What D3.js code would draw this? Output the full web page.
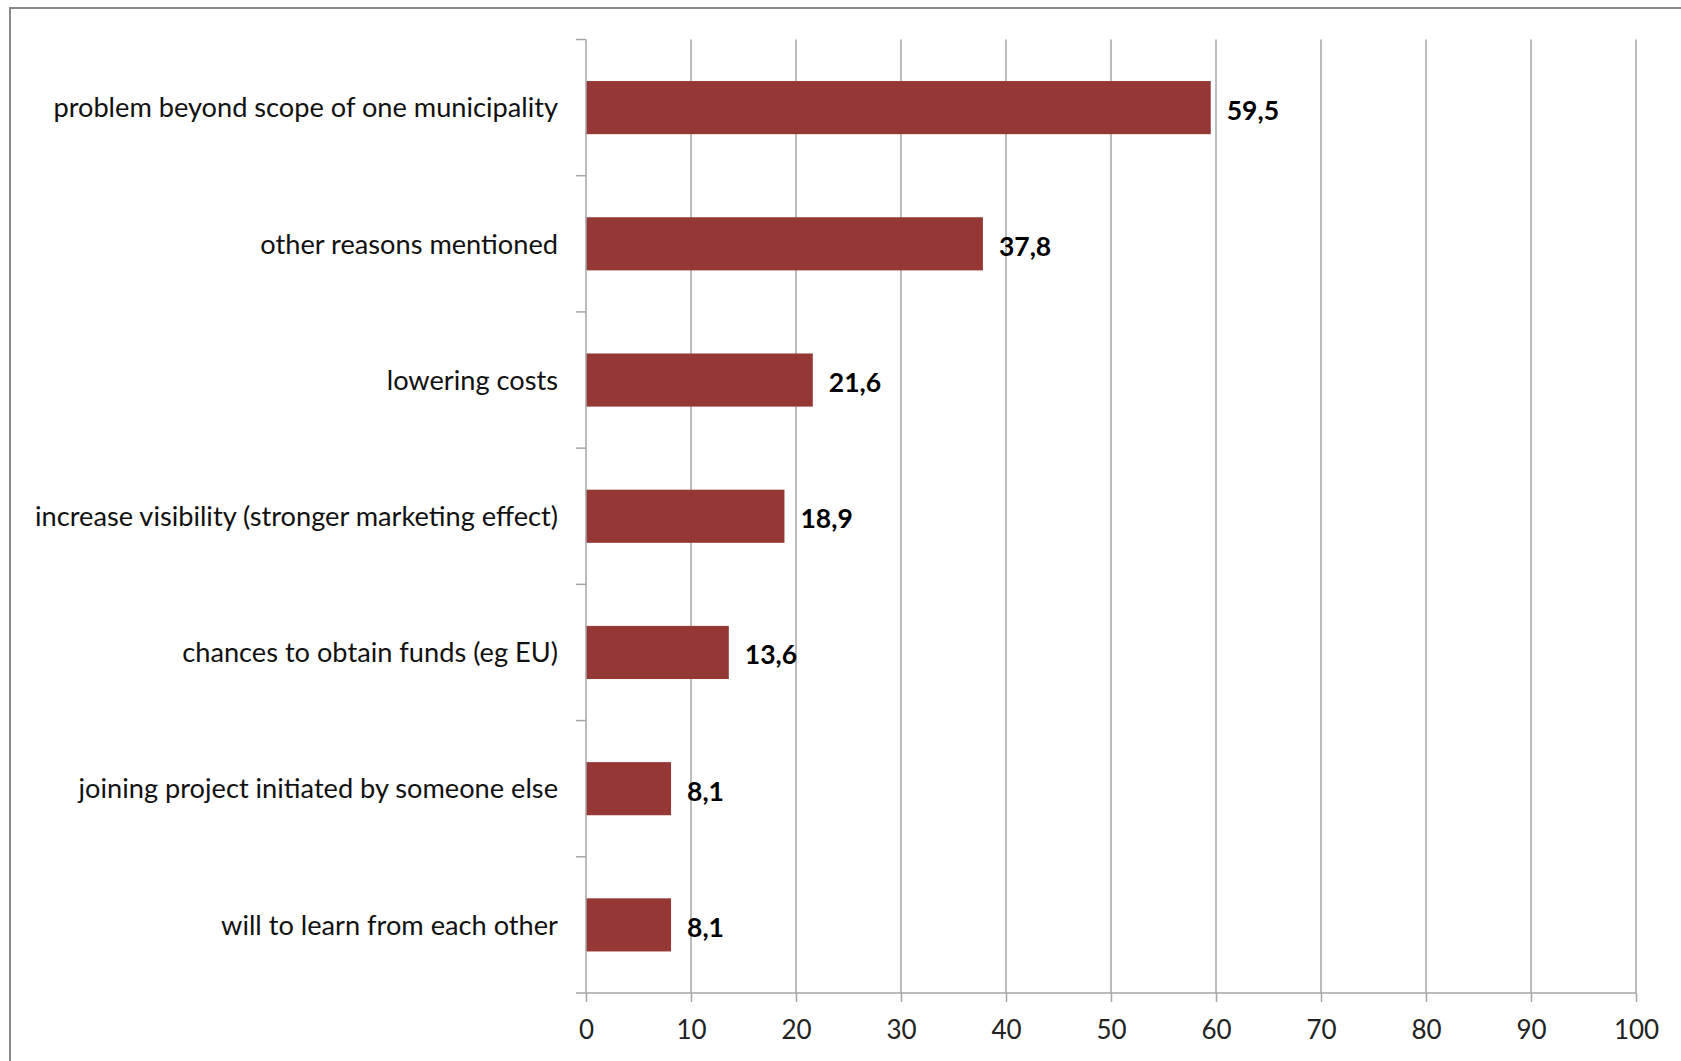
<!DOCTYPE html>
<html><head><meta charset="utf-8">
<script src="https://cdn.jsdelivr.net/npm/d3@7"></script>
<style>body{margin:0;background:#fff;}svg{display:block;}</style>
</head><body>
<svg id="chart" width="1681" height="1061"></svg>
<script>
const categories = [
  "problem beyond scope of one municipality",
  "other reasons mentioned",
  "lowering costs",
  "increase visibility (stronger marketing effect)",
  "chances to obtain funds (eg EU)",
  "joining project initiated by someone else",
  "will to learn from each other"
];
const values = [59.5, 37.8, 21.6, 18.9, 13.6, 8.1, 8.1];
const valueLabels = ["59,5", "37,8", "21,6", "18,9", "13,6", "8,1", "8,1"];
const xTicks = [0, 10, 20, 30, 40, 50, 60, 70, 80, 90, 100];

(function () {
const svg = d3.select("#chart");
const font = "Lato, 'Open Sans', sans-serif";
const pLeft = 586, pRight = 1636, pTop = 39.5, pBottom = 993;

// frame
svg.append("rect").attr("x", 10).attr("y", 8).attr("width", 1700).attr("height", 1100)
  .attr("fill", "#fff").attr("stroke", "#8a8a8a").attr("stroke-width", 2);

const x = d3.scaleLinear().domain([0, 100]).range([pLeft, pRight]);
const y = d3.scaleBand().domain(categories).range([pTop, pBottom]).paddingInner(0.61).paddingOuter(0.305);

// gridlines
svg.append("g").selectAll("line").data(xTicks.slice(1)).join("line")
  .attr("x1", d => x(d)).attr("x2", d => x(d)).attr("y1", pTop).attr("y2", pBottom)
  .attr("stroke", "#a6a6a6").attr("stroke-width", 1.5);

// bars
svg.append("g").selectAll("rect").data(values).join("rect")
  .attr("x", x(0)).attr("y", (d, i) => y(categories[i]))
  .attr("width", d => x(d) - x(0)).attr("height", y.bandwidth())
  .attr("fill", "#953735");

// value labels
svg.append("g").selectAll("text").data(values).join("text")
  .attr("x", d => x(d) + 16).attr("y", (d, i) => y(categories[i]) + y.bandwidth() / 2)
  .attr("dy", "0.45em").attr("font-family", font).attr("font-weight", "bold")
  .attr("font-size", 26.5).attr("fill", "#000").text((d, i) => valueLabels[i]);

// x axis
const xAxis = d3.axisBottom(x).tickValues(xTicks).tickSize(9).tickPadding(19).tickSizeOuter(0);
const gx = svg.append("g").attr("transform", `translate(0,${pBottom})`).call(xAxis);
gx.select(".domain").remove();
gx.append("line").attr("x1", pLeft - 10).attr("x2", pRight).attr("y1", 0).attr("y2", 0)
  .attr("stroke", "#a6a6a6").attr("stroke-width", 1.5);
gx.selectAll(".tick line").attr("stroke", "#a6a6a6").attr("stroke-width", 1.5);
gx.selectAll(".tick text").attr("font-family", font).attr("font-size", 26).attr("fill", "#222");

// y axis line and boundary ticks
svg.append("line").attr("x1", pLeft).attr("x2", pLeft).attr("y1", pTop).attr("y2", pBottom)
  .attr("stroke", "#a6a6a6").attr("stroke-width", 1.5);
const step = y.step();
const bounds = d3.range(categories.length).map(i => pTop + i * step);
svg.append("g").selectAll("line").data(bounds).join("line")
  .attr("x1", pLeft - 10).attr("x2", pLeft).attr("y1", d => d).attr("y2", d => d)
  .attr("stroke", "#a6a6a6").attr("stroke-width", 1.5);

// category labels
svg.append("g").selectAll("text").data(categories).join("text")
  .attr("x", pLeft - 28).attr("y", d => y(d) + y.bandwidth() / 2)
  .attr("dy", "0.36em").attr("text-anchor", "end")
  .attr("font-family", font).attr("font-size", 27.2).attr("fill", "#111").text(d => d);
})();
</script>
</body></html>
